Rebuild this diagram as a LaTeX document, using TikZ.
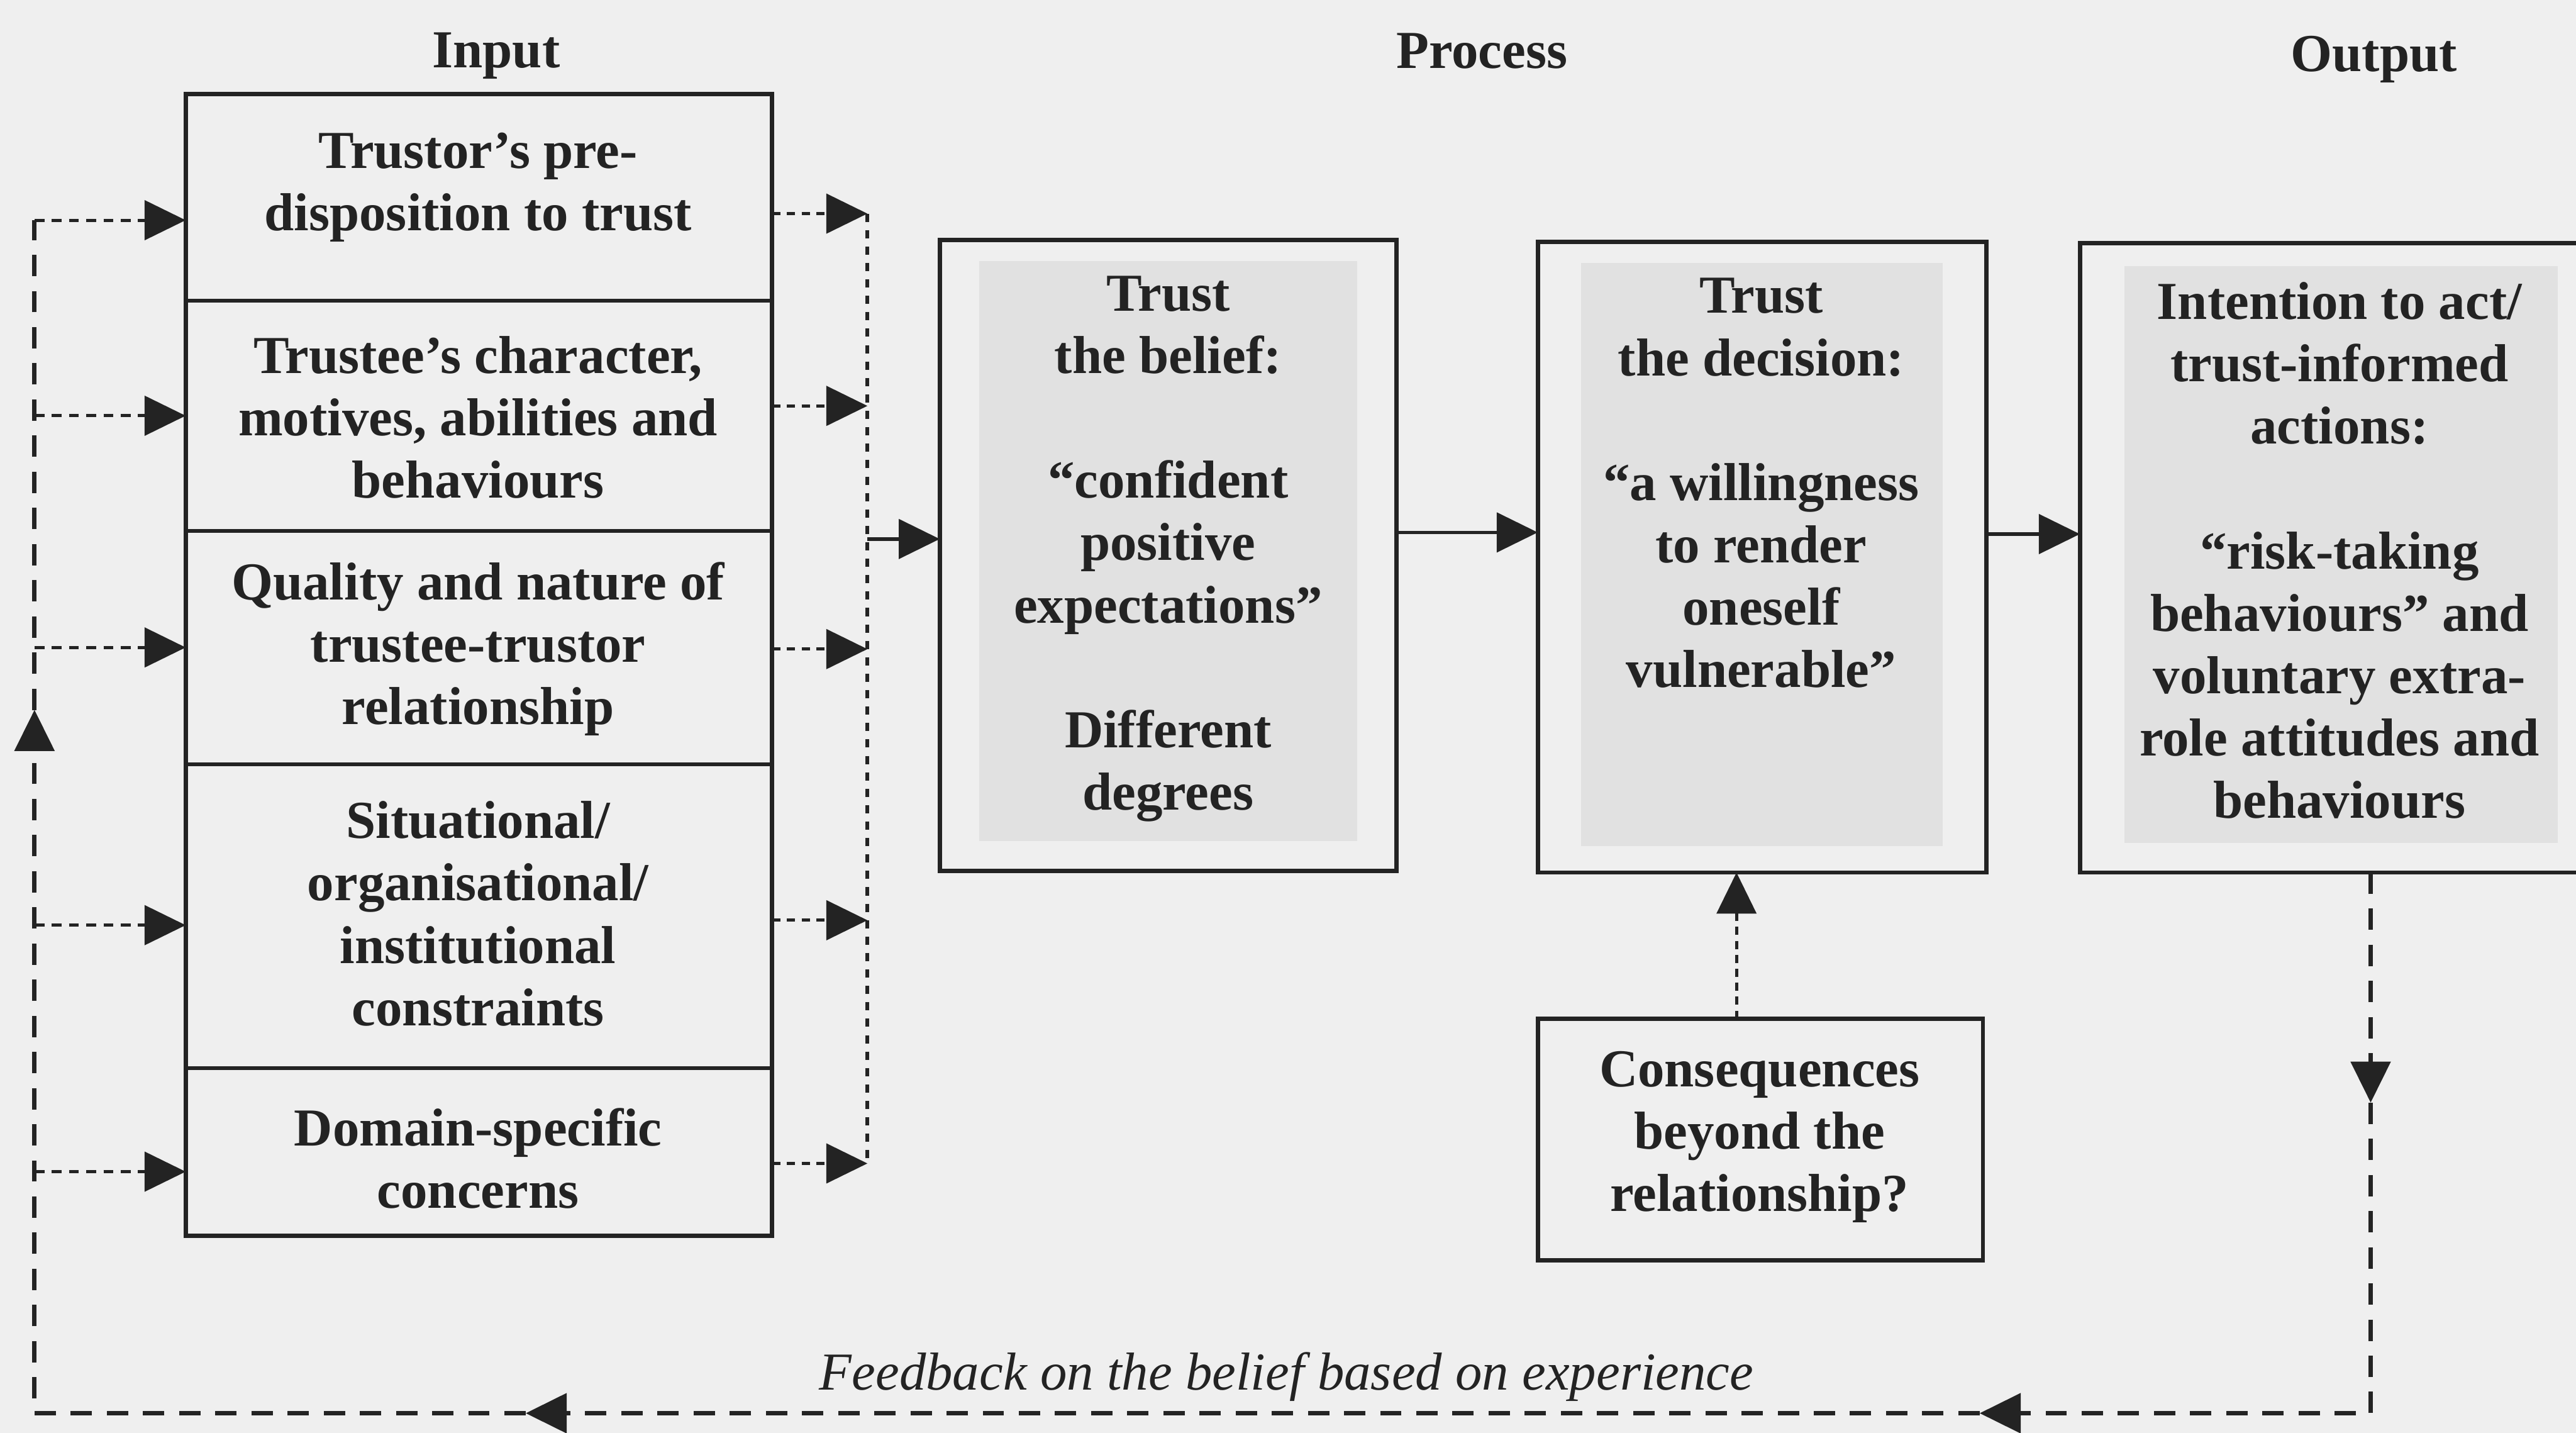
\documentclass[tikz,border=0pt]{standalone}
\usepackage{fontspec}
\setmainfont{Liberation Serif}
\usetikzlibrary{arrows.meta}
\definecolor{paper}{RGB}{239,239,239}
\definecolor{tint}{RGB}{225,225,225}
\definecolor{ink}{RGB}{35,35,35}

\begin{document}
\begin{tikzpicture}[x=0.02cm,y=-0.02cm,
  every node/.style={inner sep=0pt,outer sep=0pt},
  txt/.style={align=center,text=ink,font=\fontsize{18.5}{21.6}\selectfont\bfseries},
  heading/.style={text=ink,font=\fontsize{18.5}{21.6}\selectfont\bfseries},
  outerframe/.style={draw=ink,line width=1.5pt},
  cell/.style={draw=ink,line width=1.2pt,minimum width=7.14cm},
  tintbox/.style={fill=tint},
  headtip/.style={-{Triangle[length=0.5cm,width=0.48cm]}},
  solidlink/.style={draw=ink,line width=1.2pt,headtip},
  feedin/.style={draw=ink,line width=1.1pt,dash pattern=on 0.12cm off 0.09cm},
  feedout/.style={draw=ink,line width=1.1pt,dash pattern=on 0.1cm off 0.08cm},
  bus/.style={draw=ink,line width=1.3pt,dash pattern=on 0.1cm off 0.1cm},
  fbline/.style={draw=ink,line width=1.5pt,dash pattern=on 0.26cm off 0.18cm},
  conslink/.style={draw=ink,line width=1.1pt,dash pattern=on 0.1cm off 0.07cm},
]
% page
\useasboundingbox (0,0) rectangle (1568,872);
\clip (0,0) rectangle (1568,872);
\fill[paper] (0,0) rectangle (1568,872);

% column headings
\node[heading] (hin) at (302,34) {Input};
\node[heading] (hpr) at (902,31) {Process};
\node[heading] (hout) at (1445,36) {Output};

% input stack
\node[cell,minimum height=2.52cm] (in1) at (291.5,120) {};
\node[cell,minimum height=2.80cm] (in2) at (291.5,253) {};
\node[cell,minimum height=2.84cm] (in3) at (291.5,394) {};
\node[cell,minimum height=3.70cm] (in4) at (291.5,557.5) {};
\node[cell,minimum height=2.04cm] (in5) at (291.5,701) {};
\node[outerframe,minimum width=7.14cm,minimum height=13.9cm] (input) at (291.5,404.5) {};

\node[txt] (t1) at (291,114) {Trustor’s pre-\\disposition to trust};
\node[txt] (t2) at (291,254) {Trustee’s character,\\motives, abilities and\\behaviours};
\node[txt] (t3) at (291,395) {Quality and nature of\\trustee-trustor\\relationship};
\node[txt] (t4) at (291,556) {Situational/\\organisational/\\institutional\\constraints};
\node[txt] (t5) at (291,705) {Domain-specific\\concerns};

% process boxes
\node[outerframe,minimum width=5.56cm,minimum height=7.68cm] (belief) at (711,338) {};
\node[tintbox,minimum width=4.6cm,minimum height=7.06cm] (beliefin) at (711,335.5) {};
\node[txt] (tb) at (711,334) {Trust\\the belief:\\[21.6pt]“confident\\positive\\expectations”\\[21.6pt]Different\\degrees};

\node[outerframe,minimum width=5.46cm,minimum height=7.68cm] (decision) at (1072.5,339) {};
\node[tintbox,minimum width=4.4cm,minimum height=7.1cm] (decisionin) at (1072.5,337.5) {};
\node[txt] (td) at (1072,294) {Trust\\the decision:\\[21.6pt]“a willingness\\to render\\oneself\\vulnerable”};

\node[outerframe,minimum width=6.32cm,minimum height=7.66cm] (action) at (1424,339.5) {};
\node[tintbox,minimum width=5.28cm,minimum height=7.02cm] (actionin) at (1425,337.5) {};
\node[txt] (ta) at (1424,335) {Intention to act/\\trust-informed\\actions:\\[21.6pt]“risk-taking\\behaviours” and\\voluntary extra-\\role attitudes and\\behaviours};

\node[outerframe,minimum width=5.42cm,minimum height=2.94cm] (cons) at (1071.5,693.5) {};
\node[txt] (tc) at (1071,692) {Consequences\\beyond the\\relationship?};

% input factors feeding the belief
\coordinate (r1) at (528,130);
\coordinate (r2) at (528,247);
\coordinate (r3) at (528,395);
\coordinate (r4) at (528,560);
\coordinate (r5) at (528,708);
\draw[feedout,headtip] (in1.east |- r1) -- (r1);
\draw[feedout,headtip] (in2.east |- r2) -- (r2);
\draw[feedout,headtip] (in3.east |- r3) -- (r3);
\draw[feedout,headtip] (in4.east |- r4) -- (r4);
\draw[feedout,headtip] (in5.east |- r5) -- (r5);
\draw[bus] (r1) -- (r5);
\coordinate (rb) at (528,328);
\draw[solidlink] (rb) -- (rb -| belief.west);

% belief -> decision -> action
\coordinate (m1) at (0,324);
\coordinate (m2) at (0,325);
\draw[solidlink] (belief.east |- m1) -- (decision.west |- m1);
\draw[solidlink] (decision.east |- m2) -- (action.west |- m2);

% consequences
\coordinate (cx) at (1057,0);
\draw[conslink,headtip] (cons.north -| cx) -- (decision.south -| cx);

% feedback loop
\coordinate (fa) at (1443,671);
\coordinate (fb) at (1443,860);
\coordinate (fc) at (1205,860);
\coordinate (fd) at (320,860);
\coordinate (fe) at (21,860);
\coordinate (ff) at (21,432);
\coordinate (l1) at (21,134);
\coordinate (l2) at (21,253);
\coordinate (l3) at (21,394);
\coordinate (l4) at (21,563);
\coordinate (l5) at (21,713);
\draw[fbline,headtip] (action.south -| fa) -- (fa);
\draw[fbline,headtip] (fa) -- (fb) -- (fc);
\draw[fbline,headtip] (fc) -- (fd);
\draw[fbline,headtip] (fd) -- (fe) -- (ff);
\draw[fbline] (ff) -- (l1);

\draw[feedin,headtip] (l1) -- (l1 -| in1.west);
\draw[feedin,headtip] (l2) -- (l2 -| in2.west);
\draw[feedin,headtip] (l3) -- (l3 -| in3.west);
\draw[feedin,headtip] (l4) -- (l4 -| in4.west);
\draw[feedin,headtip] (l5) -- (l5 -| in5.west);

\node[text=ink,font=\fontsize{18.5}{21.6}\selectfont\itshape] (fbtxt) at (783,838) {Feedback on the belief based on experience};
\end{tikzpicture}
\end{document}
